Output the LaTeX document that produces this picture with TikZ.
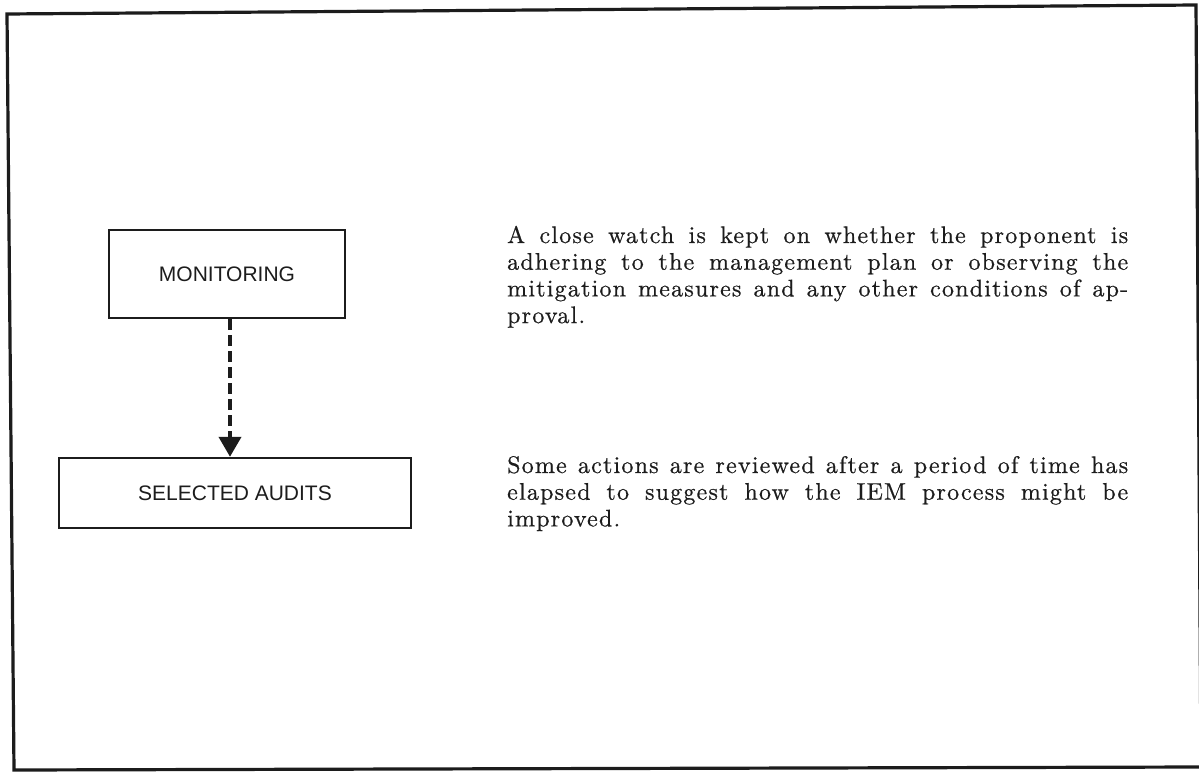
\documentclass[tikz,border=0pt]{standalone}
\usepackage{fontspec}
\setsansfont{Liberation Sans}
\newfontfamily\bodyfont{lmroman10-regular}[Extension=.otf, LetterSpace=5, FakeBold=0.6]
\usetikzlibrary{arrows.meta}
\definecolor{ink}{HTML}{1C1C1C}

\tikzset{
  stagebox/.style={draw=ink, line width=2.4pt, inner sep=0pt, font=\sffamily\fontsize{21}{25}\selectfont, text=ink},
  flowarrow/.style={draw=ink, line width=4pt, dash pattern=on 11pt off 5pt,
                    -{Triangle[width=22pt,length=20pt]}},
  frameline/.style={draw=ink, line width=3.2pt, line join=miter},
  bodytext/.style={inner sep=0pt, anchor=base west, text=ink}
}

% one justified line of the description column
\newcommand{\jline}[1]{\makebox[621pt][s]{#1}}

\begin{document}
\begin{tikzpicture}[x=1pt, y=-1pt]
  \useasboundingbox (0,0) rectangle (1199,773);

  % outer border
  \draw[frameline] (7,14) -- (1196,5) -- (1201,767) -- (14,770) -- cycle;

  % process stages
  \node[stagebox, minimum width=236pt, minimum height=88pt] (mon) at (227,274) {MONITORING};
  \node[stagebox, minimum width=352pt, minimum height=70pt] (aud) at (235,493) {SELECTED AUDITS};

  \draw[flowarrow] (mon.south -| 230,0) -- (aud.north -| 230,0);

  % descriptions
  \node[bodytext] (desc1) at (507,243) {\parbox[t]{621pt}{\bodyfont\fontsize{24}{26.7}\selectfont
    \jline{A close watch is kept on whether the proponent is}\\
    \jline{adhering to the management plan or observing the}\\
    \jline{mitigation measures and any other conditions of ap-}\\
    proval.}};

  \node[bodytext] (desc2) at (507,473) {\parbox[t]{621pt}{\bodyfont\fontsize{24}{26.7}\selectfont
    \jline{Some actions are reviewed after a period of time has}\\
    \jline{elapsed to suggest how the IEM process might be}\\
    improved.}};
\end{tikzpicture}
\end{document}
